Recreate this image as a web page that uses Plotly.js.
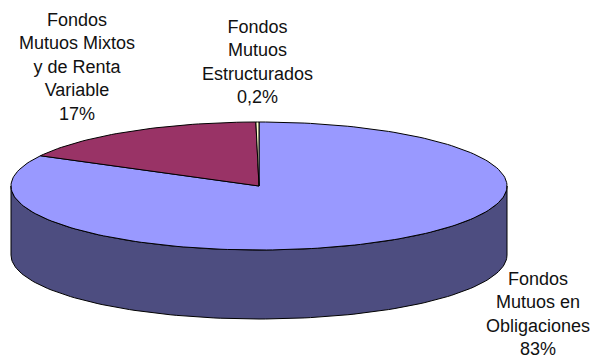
<!DOCTYPE html>
<html>
<head>
<meta charset="utf-8">
<script src="https://cdn.plot.ly/plotly-3.0.1.min.js"></script>
<style>html,body{margin:0;padding:0;background:#fff;}#chart{width:592px;height:358px;}</style>
</head>
<body>
<div id="chart"></div>
<script>
// Data
const categories = ["Fondos Mutuos en Obligaciones", "Fondos Mutuos Mixtos y de Renta Variable", "Fondos Mutuos Estructurados"];
const values = [83, 17, 0.2];
const pctLabels = ["83%", "17%", "0,2%"];
const labelLines = [["Fondos", "Mutuos en", "Obligaciones"], ["Fondos", "Mutuos Mixtos", "y de Renta", "Variable"], ["Fondos", "Mutuos", "Estructurados"]];
const topColors = ["#9999FF", "#993366", "#FFFFCC"];
const sideColors = ["#4D4D80", "#4D1A33", "#808066"];

// Geometry of the tilted pie (pixel space)
const cx = 259, cy = 186, rx = 248, ry = 64, depth = 69;
const total = values.reduce((a, b) => a + b, 0);

function pt(theta, dy) {
  const r = theta * Math.PI / 180;
  return [cx + rx * Math.sin(r), cy - ry * Math.cos(r) + (dy || 0)];
}
function arc(a, b, dy) {
  const n = Math.max(2, Math.ceil(Math.abs(b - a) / 1.5));
  const out = [];
  for (let i = 0; i <= n; i++) out.push(pt(a + (b - a) * i / n, dy));
  return out;
}

const sideTraces = [], topTraces = [];
let start = 0;
values.forEach((v, i) => {
  const end = start + v / total * 360;
  // visible side (front half: 90..270 deg clockwise from top)
  const s = Math.max(start, 90), e = Math.min(end, 270);
  if (e > s) {
    const top = arc(s, e, 0);
    const bot = arc(e, s, depth);
    const poly = top.concat(bot);
    poly.push(top[0]);
    sideTraces.push({
      type: "scatter", mode: "lines", x: poly.map(p => p[0]), y: poly.map(p => p[1]),
      fill: "toself", fillcolor: sideColors[i], line: {color: "#000", width: 1},
      hoverinfo: "skip", showlegend: false
    });
  }
  const a = arc(start, end, 0);
  const poly = [[cx, cy]].concat(a);
  poly.push([cx, cy]);
  topTraces.push({
    type: "scatter", mode: "lines", x: poly.map(p => p[0]), y: poly.map(p => p[1]),
    fill: "toself", fillcolor: topColors[i], line: {color: "#000", width: 1},
    hoverinfo: "skip", showlegend: false, name: categories[i]
  });
  start = end;
});

const labelPos = [[538, 314], [77, 67], [257, 62]];
const annotations = values.map((v, i) => ({
  x: labelPos[i][0], y: labelPos[i][1], xref: "x", yref: "y",
  text: labelLines[i].concat([pctLabels[i]]).join("<br>"),
  showarrow: false, align: "center", xanchor: "center", yanchor: "middle",
  font: {family: "Liberation Sans, Arial, sans-serif", size: 18, color: "#111"}
}));

const layout = {
  width: 592, height: 358,
  margin: {l: 0, r: 0, t: 0, b: 0},
  paper_bgcolor: "#fff", plot_bgcolor: "#fff",
  xaxis: {range: [0, 592], visible: false, fixedrange: true},
  yaxis: {range: [358, 0], visible: false, fixedrange: true},
  annotations: annotations,
  showlegend: false
};
Plotly.newPlot("chart", sideTraces.concat(topTraces), layout, {staticPlot: true});
</script>
</body>
</html>
